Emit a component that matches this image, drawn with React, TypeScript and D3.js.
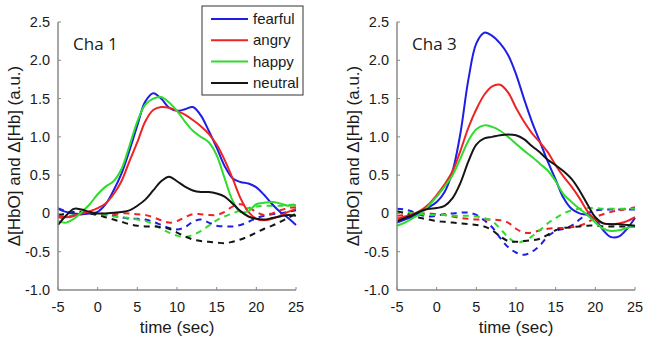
import React from "react";
import * as d3 from "d3";

const times = d3.range(-5, 26, 1);
const conditions = ["fearful", "angry", "happy", "neutral"];
const colors = ["#1e1ee6", "#ee2424", "#2edc2e", "#151515"];
const xTicks = [-5, 0, 5, 10, 15, 20, 25];
const yTicks = [-1.0, -0.5, 0, 0.5, 1.0, 1.5, 2.0, 2.5];
const yTickLabels = ["-1.0", "-0.5", "0", "0.5", "1.0", "1.5", "2.0", "2.5"];
const panelTitles = ["Cha 1", "Cha 3"];

// Cha 1 HbO (solid)
const cha1Fearful = [0.06, 0.02, 0.0, -0.01, 0.0, 0.02, 0.12, 0.3, 0.52, 0.82, 1.15, 1.46, 1.57, 1.5, 1.38, 1.34, 1.36, 1.39, 1.28, 1.08, 0.86, 0.62, 0.46, 0.41, 0.39, 0.34, 0.24, 0.12, 0.02, -0.06, -0.15];
const cha1Angry = [-0.03, -0.05, -0.03, 0.0, 0.03, 0.07, 0.13, 0.25, 0.42, 0.68, 0.93, 1.2, 1.35, 1.39, 1.38, 1.34, 1.29, 1.22, 1.14, 1.04, 0.9, 0.7, 0.46, 0.2, 0.02, -0.07, -0.09, -0.07, -0.03, 0.02, 0.06];
const cha1Happy = [-0.1, -0.12, -0.07, 0.02, 0.12, 0.25, 0.35, 0.42, 0.58, 0.88, 1.2, 1.42, 1.5, 1.52, 1.45, 1.34, 1.2, 1.08, 1.0, 0.93, 0.76, 0.46, 0.17, 0.02, 0.03, 0.12, 0.14, 0.15, 0.13, 0.1, 0.11];
const cha1Neutral = [-0.15, -0.03, 0.06, 0.05, 0.02, 0.0, 0.0, 0.01, 0.02, 0.04, 0.1, 0.18, 0.3, 0.42, 0.48, 0.42, 0.35, 0.3, 0.28, 0.28, 0.26, 0.22, 0.13, 0.03, -0.04, -0.07, -0.08, -0.06, -0.04, -0.02, -0.03];
// Cha 1 HbR (dashed)
const cha1FearfulR = [0.07, 0.03, 0.0, 0.0, 0.0, 0.0, -0.01, -0.03, -0.05, -0.07, -0.07, -0.08, -0.11, -0.15, -0.19, -0.21, -0.18, -0.11, -0.08, -0.12, -0.16, -0.17, -0.17, -0.15, -0.11, -0.06, -0.03, -0.01, 0.0, 0.02, 0.04];
const cha1AngryR = [-0.05, -0.06, -0.03, -0.01, 0.0, 0.0, -0.01, -0.01, 0.0, 0.0, -0.01, -0.02, -0.05, -0.09, -0.12, -0.1, -0.05, -0.01, -0.01, -0.02, -0.02, 0.02, 0.09, 0.12, 0.08, 0.02, -0.02, 0.0, 0.04, 0.07, 0.08];
const cha1HappyR = [-0.03, -0.04, -0.02, 0.0, 0.0, -0.01, -0.02, -0.04, -0.05, -0.06, -0.08, -0.1, -0.14, -0.2, -0.25, -0.29, -0.31, -0.28, -0.23, -0.16, -0.09, -0.04, 0.0, 0.04, 0.07, 0.09, 0.1, 0.1, 0.1, 0.11, 0.12];
const cha1NeutralR = [-0.03, 0.0, 0.02, 0.02, 0.0, -0.02, -0.05, -0.08, -0.11, -0.14, -0.16, -0.17, -0.17, -0.18, -0.2, -0.25, -0.3, -0.34, -0.36, -0.37, -0.38, -0.39, -0.37, -0.34, -0.3, -0.25, -0.2, -0.16, -0.11, -0.06, 0.0];

// Cha 3 HbO (solid)
const cha3Fearful = [-0.12, -0.08, -0.04, 0.02, 0.08, 0.15, 0.28, 0.55, 1.05, 1.75, 2.22, 2.36, 2.32, 2.22, 2.07, 1.82, 1.5, 1.2, 0.94, 0.68, 0.44, 0.2, 0.06, 0.0, -0.02, -0.08, -0.22, -0.31, -0.3, -0.2, -0.06];
const cha3Angry = [-0.07, -0.04, -0.01, 0.04, 0.12, 0.24, 0.38, 0.55, 0.82, 1.12, 1.36, 1.55, 1.66, 1.68, 1.58, 1.38, 1.2, 1.05, 0.93, 0.8, 0.63, 0.48, 0.35, 0.2, 0.03, -0.08, -0.13, -0.14, -0.13, -0.1, -0.05];
const cha3Happy = [-0.16, -0.12, -0.06, 0.0, 0.1, 0.22, 0.35, 0.5, 0.72, 0.95, 1.1, 1.15, 1.13, 1.08, 1.0, 0.91, 0.82, 0.74, 0.65, 0.56, 0.42, 0.25, 0.15, 0.06, -0.02, -0.12, -0.2, -0.23, -0.22, -0.19, -0.16];
const cha3Neutral = [-0.1, -0.06, -0.02, 0.03, 0.06, 0.07, 0.1, 0.2, 0.4, 0.68, 0.9, 0.98, 1.0, 1.02, 1.03, 1.02, 0.97, 0.88, 0.8, 0.7, 0.63, 0.55, 0.45, 0.3, 0.12, -0.05, -0.13, -0.14, -0.14, -0.15, -0.16];
// Cha 3 HbR (dashed)
const cha3FearfulR = [0.06, 0.05, 0.02, -0.02, -0.04, -0.03, -0.01, 0.0, 0.01, 0.01, -0.02, -0.09, -0.18, -0.32, -0.44, -0.51, -0.54, -0.5, -0.42, -0.3, -0.23, -0.2, -0.16, -0.08, 0.0, 0.04, 0.05, 0.05, 0.05, 0.05, 0.05];
const cha3AngryR = [-0.03, -0.02, 0.0, 0.0, 0.0, -0.01, -0.02, -0.04, -0.06, -0.07, -0.08, -0.08, -0.08, -0.09, -0.12, -0.2, -0.25, -0.25, -0.22, -0.2, -0.19, -0.19, -0.18, -0.16, -0.12, -0.05, -0.01, 0.02, 0.04, 0.06, 0.08];
const cha3HappyR = [0.02, 0.02, 0.0, -0.01, -0.02, -0.02, -0.02, -0.03, -0.03, -0.03, -0.04, -0.06, -0.1, -0.2, -0.31, -0.38, -0.36, -0.3, -0.22, -0.13, -0.06, 0.0, 0.04, 0.06, 0.07, 0.07, 0.06, 0.06, 0.06, 0.06, 0.06];
const cha3NeutralR = [0.03, 0.0, -0.03, -0.06, -0.08, -0.1, -0.11, -0.12, -0.13, -0.14, -0.15, -0.17, -0.22, -0.3, -0.36, -0.37, -0.36, -0.35, -0.33, -0.28, -0.22, -0.19, -0.18, -0.17, -0.16, -0.16, -0.17, -0.17, -0.17, -0.17, -0.17];

const panels = [
  { title: panelTitles[0], hbo: [cha1Fearful, cha1Angry, cha1Happy, cha1Neutral], hbr: [cha1FearfulR, cha1AngryR, cha1HappyR, cha1NeutralR] },
  { title: panelTitles[1], hbo: [cha3Fearful, cha3Angry, cha3Happy, cha3Neutral], hbr: [cha3FearfulR, cha3AngryR, cha3HappyR, cha3NeutralR] },
];

const FONT = "'Liberation Sans', Arial, sans-serif";
const AXIS = "#8a8a8a";

function Panel({ p, x0, x1, showLegend }: any) {
  const x = d3.scaleLinear().domain([-5, 25]).range([x0, x1]);
  const y = d3.scaleLinear().domain([-1, 2.5]).range([290, 22]);
  const line = d3
    .line<number>()
    .x((_, i) => x(times[i]))
    .y((v) => y(v))
    .curve(d3.curveCatmullRom.alpha(0.5));
  const cx = (x0 + x1) / 2;
  return (
    <g>
      {p.hbr.map((s: number[], i: number) => (
        <path key={"r" + i} d={line(s) || ""} fill="none" stroke={colors[i]} strokeWidth={2} strokeDasharray="6,5" />
      ))}
      {p.hbo.map((s: number[], i: number) => (
        <path key={"o" + i} d={line(s) || ""} fill="none" stroke={colors[i]} strokeWidth={2} />
      ))}
      <line x1={x0} x2={x0} y1={y(2.5)} y2={y(-1)} stroke={AXIS} strokeWidth={1.5} />
      <line x1={x0} x2={x1} y1={y(-1)} y2={y(-1)} stroke={AXIS} strokeWidth={1.5} />
      {xTicks.map((t) => (
        <g key={"xt" + t}>
          <line x1={x(t)} x2={x(t)} y1={y(-1)} y2={y(-1) - 3} stroke={AXIS} strokeWidth={1} />
          <text x={x(t)} y={312} textAnchor="middle" fontSize={14.5} fontFamily={FONT} fill="#1a1a1a">
            {t}
          </text>
        </g>
      ))}
      {yTicks.map((t, i) => (
        <g key={"yt" + t}>
          <line x1={x0} x2={x0 + 3} y1={y(t)} y2={y(t)} stroke={AXIS} strokeWidth={1} />
          <text x={x0 - 8} y={y(t) + 5} textAnchor="end" fontSize={14.5} fontFamily={FONT} fill="#1a1a1a">
            {yTickLabels[i]}
          </text>
        </g>
      ))}
      <text x={cx} y={333} textAnchor="middle" fontSize={17} fontFamily={FONT} fill="#1a1a1a">
        time (sec)
      </text>
      <text
        transform={`translate(${x0 - 38},156) rotate(-90)`}
        textAnchor="middle"
        fontSize={17}
        fontFamily={FONT}
        fill="#1a1a1a"
      >
        Δ[HbO] and Δ[Hb] (a.u.)
      </text>
      <text x={x0 + 15} y={50} fontSize={17} fontFamily="'Open Sans', 'Noto Sans', sans-serif" fill="#1a1a1a">
        {p.title}
      </text>
      {showLegend && (
        <g>
          <rect x={202} y={6} width={101} height={89} fill="white" stroke="#333" strokeWidth={1} />
          {conditions.map((c, i) => (
            <g key={c}>
              <line x1={211} x2={248} y1={19 + i * 21.3} y2={19 + i * 21.3} stroke={colors[i]} strokeWidth={2} />
              <text x={253} y={19 + i * 21.3 + 5} fontSize={15} fontFamily={FONT} fill="#1a1a1a">
                {c}
              </text>
            </g>
          ))}
        </g>
      )}
    </g>
  );
}

export default function App() {
  return (
    <svg
      width={650}
      height={350}
      style={{ position: "absolute", left: 0, top: 0, background: "white" }}
    >
      <rect width={650} height={350} fill="white" />
      <Panel p={panels[0]} x0={58} x1={296} showLegend={true} />
      <Panel p={panels[1]} x0={397} x1={635} showLegend={false} />
    </svg>
  );
}
